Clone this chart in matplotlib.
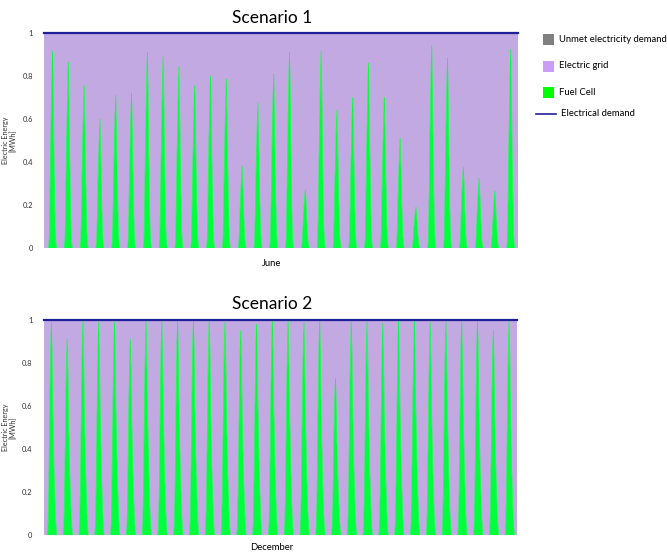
import numpy as np
import matplotlib
matplotlib.use("Agg")
import matplotlib.pyplot as plt
from matplotlib.patches import Rectangle
from matplotlib.lines import Line2D

plt.rcParams['font.family'] = ['Lato', 'DejaVu Sans']

# ---- data ----
titles = ["Scenario 1", "Scenario 2"]
months = ["June", "December"]
n_days = 30

# daily peak of fuel-cell output [MWh]
peaks_s1 = [0.915, 0.864, 0.756, 0.60, 0.71, 0.72, 0.91, 0.89, 0.845, 0.756,
            0.80, 0.785, 0.38, 0.675, 0.81, 0.91, 0.27, 0.915, 0.64, 0.70,
            0.86, 0.70, 0.51, 0.19, 0.94, 0.885, 0.375, 0.325, 0.265, 0.925]
peaks_s2 = [0.99, 0.91, 1.0, 0.99, 0.99, 0.91, 1.0, 1.0, 1.0, 1.0,
            1.0, 0.99, 0.95, 0.98, 1.0, 1.0, 0.99, 1.0, 0.73, 1.0,
            1.0, 0.985, 1.0, 1.0, 0.99, 1.0, 1.0, 1.0, 0.95, 1.0]

# hourly shape of a day's fuel-cell output (fraction of that day's peak)
shape_s1 = [0, 0, 0, 0, 0, 0, 0, 0, 0.05, 0.25, 0.50, 0.70, 0.88, 1.0,
            0.78, 0.50, 0.28, 0.10, 0.03, 0, 0, 0, 0, 0]
shape_s2 = [0, 0, 0, 0, 0, 0, 0, 0.05, 0.20, 0.45, 0.70, 0.90, 1.0, 0.85,
            0.60, 0.45, 0.30, 0.20, 0.10, 0.04, 0, 0, 0, 0]

demand_level = 1.0   # electrical demand [MWh]
unmet_level = 0.0    # unmet electricity demand [MWh]

legend_labels = ["Unmet electricity demand", "Electric grid", "Fuel Cell",
                 "Electrical demand"]

# ---- styles ----
c_green = "#00FF3C"
c_purple = "#C3A9E2"
c_gray = "#808080"
c_line = "#1F1F9A"

fig = plt.figure(figsize=(6.67, 5.54), dpi=100)
W, H = 667.0, 554.0
boxes = [(44, 33, 518, 248), (43.5, 320, 517, 535)]
title_y = [18, 304]
xlabel_y = [263, 548]

for k, (peaks, shape) in enumerate([(peaks_s1, shape_s1), (peaks_s2, shape_s2)]):
    x0, y0, x1, y1 = boxes[k]
    ax = fig.add_axes([x0 / W, 1 - y1 / H, (x1 - x0) / W, (y1 - y0) / H])
    fuel = np.concatenate([np.array(shape) * p for p in peaks])
    hours = np.arange(len(fuel) + 1) / 24.0
    fuel = np.append(fuel, 0.0)
    demand = np.full(len(fuel), demand_level)
    unmet = np.full(len(fuel), unmet_level)
    grid = demand - fuel - unmet
    ax.stackplot(hours, fuel, grid, unmet,
                 colors=[c_green, c_purple, c_gray], linewidth=0)
    # thin outline on the fuel-cell spikes (only where output is non-zero)
    pos = fuel > 0
    keep = pos | np.roll(pos, 1) | np.roll(pos, -1)
    ax.plot(hours, np.where(keep, fuel, np.nan), color=c_green, lw=0.5,
            zorder=3)
    ax.plot(hours, demand, color=c_line, lw=1.6, clip_on=False, zorder=5)
    ax.set_xlim(0, n_days)
    ax.set_ylim(0, 1)
    ax.set_yticks([0, 0.2, 0.4, 0.6, 0.8, 1.0])
    ax.set_yticklabels(["0", "0.2", "0.4", "0.6", "0.8", "1"])
    ax.set_xticks([])
    ax.tick_params(axis='y', length=0, labelsize=5.4, pad=8, colors="#333333")
    for s in ax.spines.values():
        s.set_visible(False)
    axw = x1 - x0
    fig.text(272.5 / W, 1 - title_y[k] / H, titles[k], fontsize=12.5,
             ha='center', va='center')
    fig.text(272 / W, 1 - xlabel_y[k] / H, months[k], fontsize=6.8,
             ha='center', va='center')
    ax.set_ylabel("Electric Energy\n[MWh]", fontsize=5.2,
                  linespacing=1.1, color="#333333")
    ax.yaxis.set_label_coords((17 - x0) / axw, 0.5)

# legend (drawn in figure pixels)
sq = [(c_gray, 39.5), ("#CB9EF5", 66), ("#00FF00", 92.5)]
for (col, yc), lab in zip(sq, legend_labels[:3]):
    fig.patches.append(Rectangle((543 / W, 1 - (yc + 5.5) / H), 11 / W, 11 / H,
                                 transform=fig.transFigure, facecolor=col,
                                 edgecolor='none'))
    fig.text(559 / W, 1 - yc / H, lab, fontsize=6.8, ha='left', va='center')
fig.lines.append(Line2D([536 / W, 556 / W], [1 - 114 / H, 1 - 114 / H],
                        transform=fig.transFigure, color=c_line, lw=1.2))
fig.text(561 / W, 1 - 114 / H, legend_labels[3], fontsize=6.8, ha='left',
         va='center')

fig.savefig("out.png", dpi=100)
